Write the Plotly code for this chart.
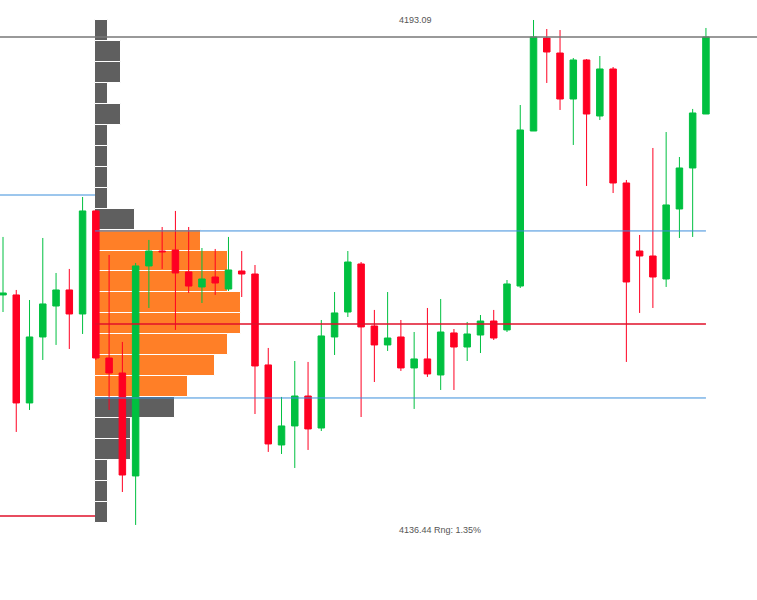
import numpy as np
import plotly.graph_objects as go

# candles (index order, left to right)
opens = [4163.02, 4163.02, 4150.43, 4158.12, 4161.73, 4163.60, 4160.80, 4172.81, 4155.67, 4153.92,
         4141.92, 4166.40, 4168.14, 4168.26, 4165.70, 4163.95, 4165.11, 4163.71, 4165.81, 4165.46,
         4154.86, 4145.53, 4147.75, 4151.24, 4147.51, 4158.12, 4161.03, 4166.63, 4159.40, 4157.19,
         4158.12, 4154.51, 4155.56, 4153.69, 4158.59, 4156.95, 4158.35, 4159.98, 4158.94, 4164.06,
         4182.13, 4192.97, 4191.22, 4185.86, 4190.41, 4183.88, 4189.36, 4176.07, 4168.14, 4167.56,
         4164.88, 4173.04, 4177.82, 4184.11]
highs = [4169.78, 4163.60, 4162.43, 4169.66, 4165.58, 4166.05, 4174.44, 4172.92, 4167.68, 4157.54,
         4166.75, 4169.43, 4170.94, 4172.81, 4170.94, 4168.49, 4168.38, 4169.78, 4168.14, 4166.51,
         4156.84, 4151.13, 4155.32, 4155.21, 4160.10, 4163.36, 4168.14, 4166.86, 4161.27, 4163.36,
         4160.10, 4158.70, 4161.50, 4162.55, 4159.05, 4159.87, 4160.68, 4161.27, 4164.76, 4185.16,
         4195.07, 4194.02, 4193.90, 4190.64, 4190.52, 4190.87, 4189.59, 4176.42, 4170.01, 4180.15,
         4182.01, 4179.10, 4184.70, 4194.14]
lows = [4161.03, 4147.05, 4149.61, 4155.44, 4157.19, 4156.72, 4158.47, 4155.44, 4149.61, 4140.05,
        4136.21, 4161.50, 4166.05, 4158.94, 4163.25, 4162.08, 4163.02, 4163.48, 4162.78, 4149.14,
        4144.72, 4144.48, 4142.85, 4144.95, 4147.16, 4156.02, 4160.45, 4148.79, 4152.87, 4156.49,
        4154.16, 4149.73, 4153.46, 4151.94, 4151.94, 4155.32, 4156.25, 4157.77, 4158.70, 4163.83,
        4182.13, 4187.73, 4184.58, 4180.50, 4175.72, 4183.41, 4174.90, 4155.21, 4160.92, 4161.50,
        4163.95, 4169.66, 4169.78, 4184.11]
closes = [4163.25, 4150.43, 4158.12, 4161.97, 4163.60, 4160.80, 4172.81, 4155.67, 4153.92, 4142.03,
          4166.40, 4168.14, 4168.05, 4165.58, 4164.06, 4164.88, 4164.41, 4165.93, 4165.46, 4154.74,
          4145.65, 4147.75, 4151.24, 4147.40, 4158.24, 4160.92, 4166.86, 4159.29, 4157.19, 4158.00,
          4154.51, 4155.56, 4153.81, 4158.70, 4156.95, 4158.47, 4159.98, 4158.00, 4164.30, 4182.25,
          4193.09, 4191.34, 4185.86, 4190.41, 4184.11, 4189.36, 4176.07, 4164.53, 4167.56, 4165.11,
          4173.51, 4177.82, 4184.23, 4193.09]

# volume profile, top row to bottom row
profile_top = 4195.07
profile_low = 4136.44
profile_vol = [13, 26, 26, 13, 26, 13, 13, 13, 13, 40,
               106, 133, 133, 146, 146, 133, 120, 93,
               80, 36, 36, 13, 13, 13]
value_area = [False] * 10 + [True] * 8 + [False] * 6
profile_start = 6.94

range_high = 4193.09
prev_high = 4174.67
prev_low = 4137.26
vah, poc, val = 4170.48, 4159.64, 4151.01

idx = list(range(len(opens)))
row_h = (profile_top - profile_low) / len(profile_vol)
row_mid = [profile_top - row_h * (i + 0.5) for i in range(len(profile_vol))]
px_per_bar = 13.26

fig = go.Figure()

fig.add_trace(go.Bar(
    y=row_mid, x=[v / px_per_bar for v in profile_vol], base=profile_start,
    orientation='h', width=row_h,
    marker=dict(color=['#FF7F27' if va else '#5F5F5F' for va in value_area],
                line=dict(color='white', width=1)),
    hoverinfo='skip', showlegend=False
))

fig.add_trace(go.Candlestick(
    x=idx, open=opens, high=highs, low=lows, close=closes,
    increasing=dict(line=dict(color='#00C040', width=1), fillcolor='#00C040'),
    decreasing=dict(line=dict(color='#FF0022', width=1), fillcolor='#FF0022'),
    whiskerwidth=0, showlegend=False
))

lines = [
    (None, None, range_high, '#777777'),
    (None, profile_start, prev_high, '#3B8EDB'),
    (None, profile_start, prev_low, '#E0102A'),
    (profile_start, idx[-1], vah, '#3B8EDB'),
    (profile_start, idx[-1], val, '#3B8EDB'),
    (profile_start, idx[-1], poc, '#E0102A'),
]
for x0, x1, yv, col in lines:
    if x0 is None and x1 is None:
        fig.add_shape(type='line', xref='paper', x0=0, x1=1, y0=yv, y1=yv,
                      line=dict(color=col, width=1.5))
    elif x0 is None:
        fig.add_shape(type='line', xref='paper', x0=0, x1=(x1 + 0.226) / 57.08, y0=yv, y1=yv,
                      line=dict(color=col, width=1.5 if col == '#E0102A' else 1))
    else:
        fig.add_shape(type='line', x0=x0, x1=x1, y0=yv, y1=yv,
                      line=dict(color=col, width=1.5 if col == '#E0102A' else 1))

fig.add_annotation(x=31.07, y=profile_top, text=f"{range_high:.2f}", showarrow=False,
                   font=dict(size=9, color='#555555', family='Arial'))
rng = (range_high - profile_low) / range_high * 100
fig.add_annotation(x=32.96, y=4135.62, text=f"{profile_low:.2f} Rng: {rng:.2f}%", showarrow=False,
                   font=dict(size=9, color='#555555', family='Arial'))

fig.update_layout(
    width=757, height=600,
    margin=dict(l=0, r=0, t=0, b=0),
    plot_bgcolor='white', paper_bgcolor='white',
    xaxis=dict(range=[-0.226, 56.85], visible=False, rangeslider=dict(visible=False)),
    yaxis=dict(range=[4127.46, 4197.40], visible=False),
    bargap=0, showlegend=False
)

# the page's default body margin would shift the chart by 8px
fig.write_html("out.html", config={'displayModeBar': False},
               post_script="document.body.style.margin='0';document.body.style.overflow='hidden';")
